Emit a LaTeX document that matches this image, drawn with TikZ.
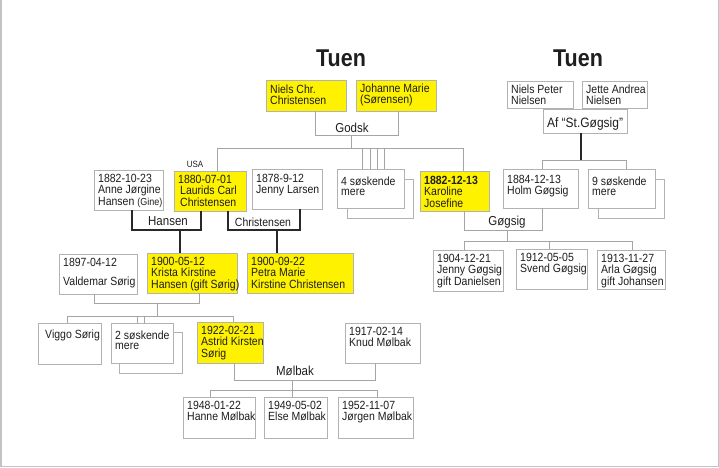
\documentclass[tikz,border=0pt]{standalone}
\usepackage{fontspec}
\usepackage{graphicx}
\setmainfont{Liberation Sans}
\usetikzlibrary{calc}
\definecolor{yel}{RGB}{255,242,0}
\definecolor{bord}{RGB}{178,178,178}
\definecolor{connc}{RGB}{165,165,165}
\definecolor{ink}{RGB}{30,30,30}
\definecolor{darkc}{RGB}{40,40,40}
\definecolor{framec}{RGB}{195,195,195}
\newcommand\vs[1]{\scalebox{1}[1.13]{#1}}
\tikzset{
 pb/.style={draw=bord, line width=0.8pt, fill=white, inner sep=0pt, outer sep=0pt},
 yb/.style={pb, fill=yel},
 txt/.style={inner sep=0pt, text=ink, font=\fontsize{10.5}{9.5}\selectfont},
 lab/.style={inner sep=0pt, text=ink, font=\fontsize{11.5}{12}\selectfont, anchor=base},
 title/.style={inner sep=0pt, text=ink, font=\fontsize{21.5}{22}\selectfont\bfseries, anchor=base},
 conn/.style={draw=connc, line width=0.8pt},
 dconn/.style={draw=darkc, line width=2pt},
}
\newcommand\pbox[8][12]{%
 \node[#7, anchor=north west, minimum width={(#5-#3)*1pt}, minimum height={(#6-#4)*1pt}] (#2) at (#3,#4) {};
 \node[txt, anchor=base west] (#2t) at ([xshift=4pt,yshift=-#1pt]#2.north west) {\vs{\begin{tabular}[t]{@{}l@{}}#8\end{tabular}}};
}
\begin{document}
\begin{tikzpicture}[x=1pt,y=-1pt]
\useasboundingbox (0,0) rectangle (719,467);
\draw[framec, line width=1.5pt] (0.75,0) -- (0.75,466.25) -- (718.25,466.25) -- (718.25,0);

% titles
\node[title] (tuenL) at (341,66) {\vs{Tuen}};
\node[title] (tuenR) at (578,66) {\vs{Tuen}};

% top left couple
\pbox[13]{niels}{266}{80}{346}{111}{yb}{Niels Chr.\\Christensen}
\pbox{johanne}{356}{80}{436}{111}{yb}{Johanne Marie\\(Sørensen)}

% top right couple
\pbox{nielsp}{507}{81}{573}{108}{pb}{Niels Peter\\Nielsen}
\pbox{jette}{582}{81}{647}{108}{pb}{Jette Andrea\\Nielsen}
\node[pb, anchor=north west, minimum width=84pt, minimum height=24pt] (af) at (543,109) {};
\node[lab, font=\fontsize{12}{12}\selectfont] (aft) at (585,127) {\vs{Af “St.Gøgsig”}};

% generation 2
\pbox{anne}{94}{170}{163}{210}{pb}{1882-10-23\\Anne Jørgine\\Hansen {\fontsize{9}{10}\selectfont(Gine)}}
\pbox{laurids}{174}{171}{246}{211}{yb}{1880-07-01\\\hspace{2pt}Laurids Carl\\\hspace{2pt}Christensen}
\node[inner sep=0pt, text=ink, font=\fontsize{8}{9}\selectfont, anchor=base] (usa) at (195,167) {\vs{USA}};
\pbox[13]{jenny}{252}{169}{322}{209}{pb}{1878-9-12\\Jenny Larsen}
\pbox{sosk4b}{347}{179}{413}{218}{pb}{}
\pbox[16]{sosk4}{337}{169}{404}{208}{pb}{4 søskende\\mere}
\pbox[13]{karoline}{420}{171}{489}{211}{yb}{\textbf{1882-12-13}\\Karoline\\Josefine}
\pbox[14]{holm}{503}{169}{578}{208}{pb}{1884-12-13\\Holm Gøgsig}
\pbox{sosk9b}{598}{179}{664}{218}{pb}{}
\pbox[16]{sosk9}{588}{169}{655}{208}{pb}{9 søskende\\mere}

% generation 3
\pbox{valdemar}{59}{254}{137}{294}{pb}{1897-04-12\\[7pt]Valdemar Sørig}
\pbox{krista}{147}{253}{237}{293}{yb}{1900-05-12\\Krista Kirstine\\Hansen (gift Sørig)}
\pbox{petra}{247}{253}{353}{293}{yb}{1900-09-22\\Petra Marie\\Kirstine Christensen}
\pbox{jennyg}{433}{250}{503}{291}{pb}{1904-12-21\\Jenny Gøgsig\\gift Danielsen}
\pbox{svend}{516}{249}{587}{289}{pb}{1912-05-05\\Svend Gøgsig}
\pbox{arla}{597}{250}{665}{289}{pb}{1913-11-27\\Arla Gøgsig\\gift Johansen}

% generation 4
\pbox[15]{viggo}{38}{323}{101}{364}{pb}{\hspace{3pt}Viggo Sørig}
\pbox{sosk2b}{119}{332}{182}{373}{pb}{}
\pbox[16]{sosk2}{111}{323}{173}{363}{pb}{2 søskende\\mere}
\pbox{astrid}{197}{322}{263}{363}{yb}{1922-02-21\\Astrid Kirsten\\Sørig}
\pbox{knud}{345}{323}{420}{363}{pb}{1917-02-14\\Knud Mølbak}

% generation 5
\pbox{hanne}{183}{397}{255}{438}{pb}{1948-01-22\\Hanne Mølbak}
\pbox{elseM}{264}{397}{327}{438}{pb}{1949-05-02\\Else Mølbak}
\pbox{jorgen}{338}{397}{413}{438}{pb}{1952-11-07\\Jørgen Mølbak}

% Godsk
\draw[conn] (315,0 |- niels.south) -- (315,135) -- (398,135) -- (398,0 |- johanne.south);
\node[lab] (godsk) at (352,132) {\vs{Godsk}};
\draw[conn] (351,135) -- (351,148);
\draw[conn] (217,0 |- laurids.north) -- (217,148) -- (463,148) -- (463,0 |- karoline.north);
\foreach \x in {362,370,377,384} \draw[conn] (\x,148) -- (\x,0 |- sosk4.north);

% Nielsen
\draw[dconn] (581,0 |- af.south) -- (581,160);
\draw[conn] (542,0 |- holm.north) -- (542,160) -- (626,160) -- (626,0 |- sosk9.north);

% Gøgsig
\draw[conn] (464,0 |- karoline.south) -- (464,230) -- (542,230) -- (542,0 |- holm.south);
\node[lab] (gogsig) at (507,225) {\vs{Gøgsig}};
\draw[conn] (507,230) -- (507,241);
\draw[conn] (464,0 |- jennyg.north) -- (464,241) -- (632,241) -- (632,0 |- arla.north);
\draw[conn] (549,241) -- (549,0 |- svend.north);

% Hansen
\draw[dconn] (132,0 |- anne.south) -- (132,230) -- (201,230) -- (201,0 |- laurids.south);
\node[lab] (hansen) at (168,225) {\vs{Hansen}};
\draw[dconn] (180,230) -- (180,0 |- krista.north);

% Christensen
\draw[dconn] (228,0 |- laurids.south) -- (228,230) -- (300,230) -- (300,0 |- jenny.south);
\node[lab, font=\fontsize{10.5}{11}\selectfont] (christ) at (263,226) {\vs{Christensen}};
\draw[dconn] (277,230) -- (277,0 |- petra.north);

% Sørig
\draw[conn] (94,0 |- valdemar.south) -- (94,303) -- (199,303) -- (199,0 |- krista.south);
\draw[conn] (157,303) -- (157,316);
\draw[conn] (67,0 |- viggo.north) -- (67,316) -- (233,316) -- (233,0 |- astrid.north);
\foreach \x in {137,144} \draw[conn] (\x,316) -- (\x,0 |- sosk2.north);

% Mølbak
\draw[conn] (234,0 |- astrid.south) -- (234,380) -- (375,380) -- (375,0 |- knud.south);
\node[lab] (molbak) at (295,375) {\vs{Mølbak}};
\draw[conn] (292,380) -- (292,390);
\draw[conn] (210,0 |- hanne.north) -- (210,390) -- (377,390) -- (377,0 |- jorgen.north);
\draw[conn] (292,390) -- (292,0 |- elseM.north);
\end{tikzpicture}
\end{document}
